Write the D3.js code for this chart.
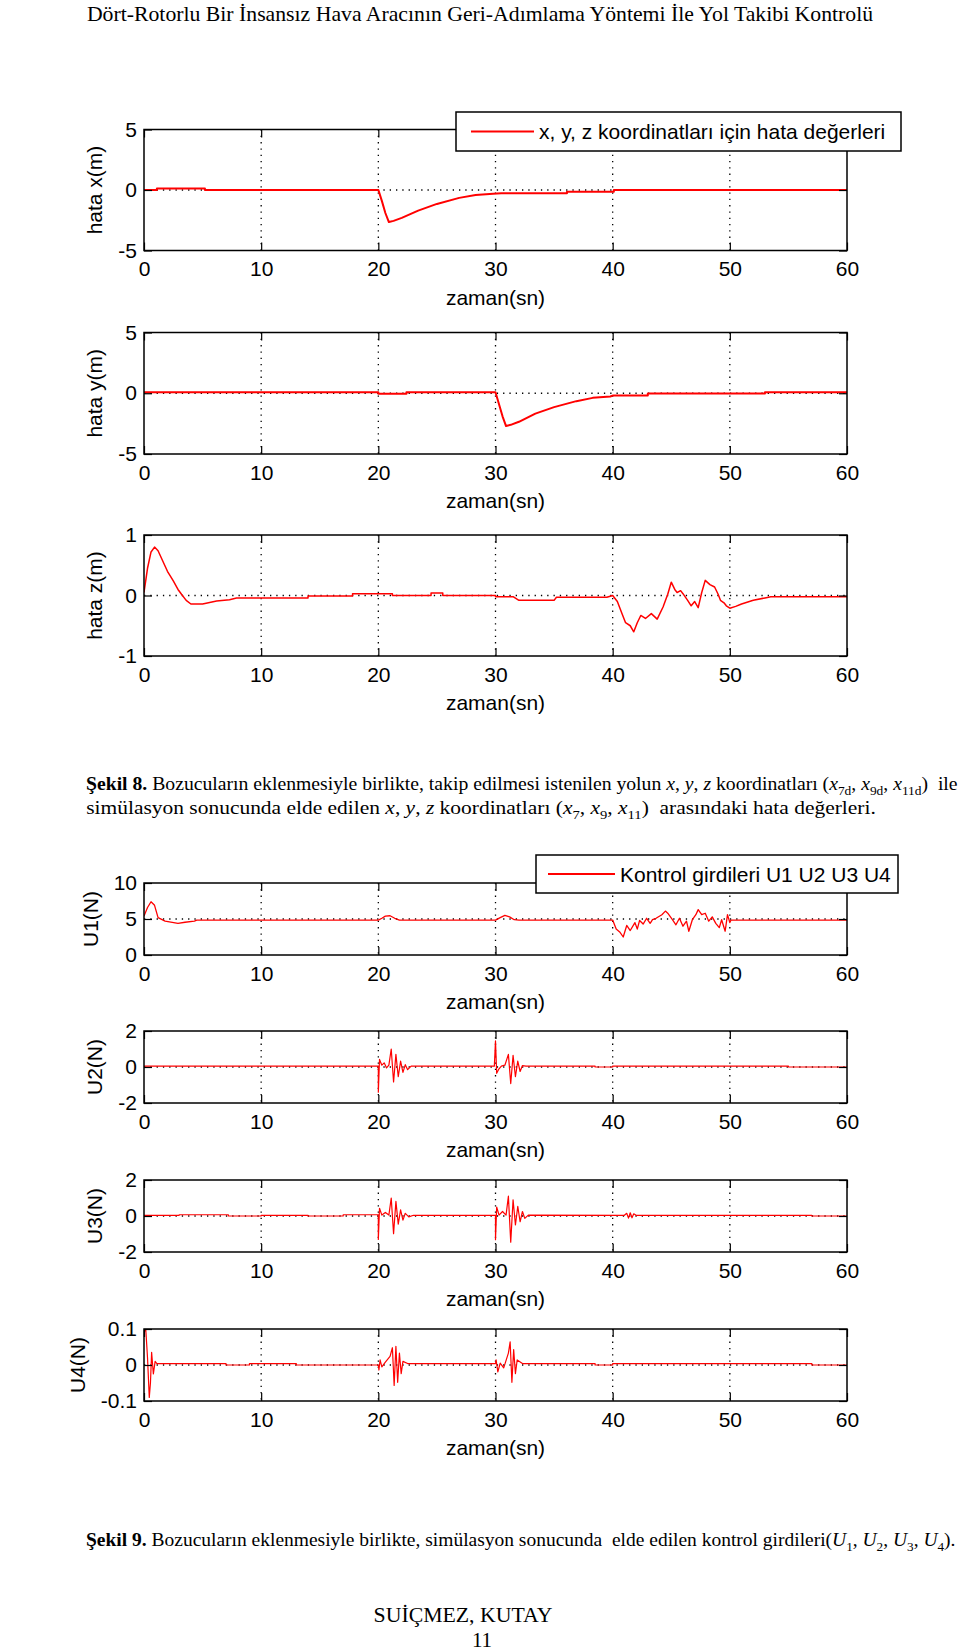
<!DOCTYPE html>
<html>
<head>
<meta charset="utf-8">
<script src="https://cdnjs.cloudflare.com/ajax/libs/d3/7.8.5/d3.min.js"></script>
<style>
	body { margin: 0; background: #fff; }
	svg text { white-space: pre; }
</style>
</head>
<body>
<svg id="page" width="960" height="1651"></svg>
<script>
'use strict';

// ---- data: [time (sn), value] ----
var xTicks = [0, 10, 20, 30, 40, 50, 60];
var errTicks = [-5, 0, 5];
var zTicks = [-1, 0, 1];
var u1Ticks = [0, 5, 10];
var u23Ticks = [-2, 0, 2];
var u4Ticks = [-0.1, 0, 0.1];

var errX = [[0, 0], [1.1, 0], [1.1, 0.12], [5.2, 0.12], [5.2, 0.01], [20, 0.01], [20.3, -0.9], [20.6, -1.9],
	[20.9, -2.65], [21.3, -2.55], [22, -2.3], [23.4, -1.7], [25, -1.15], [26.9, -0.65], [28.3, -0.42],
	[29.8, -0.3], [30.5, -0.27], [36.1, -0.27], [36.1, -0.14], [40.1, -0.14], [40.1, 0], [60, 0]];

var errY = [[0, 0.08], [20, 0.08], [20, -0.05], [22.4, -0.05], [22.4, 0.08], [30, 0.08], [30.3, -0.9],
	[30.6, -1.9], [30.9, -2.7], [31.3, -2.6], [32, -2.35], [33.4, -1.68], [35, -1.14], [36.9, -0.65],
	[38.3, -0.38], [39.8, -0.27], [40, -0.19], [43, -0.19], [43, -0.03], [53, -0.03], [53, 0.08], [60, 0.08]];

var errZ = [[0, 0.05], [0.3, 0.45], [0.6, 0.72], [0.9, 0.8], [1.2, 0.74], [1.6, 0.57], [2, 0.4], [2.5, 0.24],
	[2.9, 0.1], [3.2, 0.02], [3.6, -0.08], [4, -0.14], [5, -0.14], [5.5, -0.12], [6.2, -0.09], [7.3, -0.07],
	[7.9, -0.04], [14, -0.04], [14, -0.01], [17.8, -0.01], [17.8, 0.03], [21.2, 0.03], [21.2, 0], [24.5, 0],
	[24.5, 0.04], [25.5, 0.04], [25.5, 0], [30, 0], [30, -0.02], [31.5, -0.02], [32, -0.08], [35, -0.08],
	[35.2, -0.03], [39.5, -0.03], [40, 0], [40.4, -0.1], [40.8, -0.3], [41.1, -0.45], [41.5, -0.5],
	[41.8, -0.6], [42.1, -0.45], [42.4, -0.33], [42.8, -0.38], [43.3, -0.3], [43.8, -0.39], [44.3, -0.19],
	[44.7, 0.02], [45, 0.22], [45.3, 0.1], [45.5, 0.05], [45.8, 0.08], [46, 0.03], [46.4, -0.08],
	[46.7, -0.17], [47, -0.1], [47.3, -0.2], [47.6, 0.05], [47.9, 0.25], [48.3, 0.18], [48.7, 0.14],
	[49, 0.02], [49.2, -0.08], [49.5, -0.12], [49.7, -0.17], [50, -0.21], [50.5, -0.18], [51, -0.14],
	[52, -0.08], [53, -0.04], [53.5, -0.02], [60, -0.02]];

var u1 = [[0, 5.4], [0.3, 6.6], [0.6, 7.4], [0.9, 6.9], [1.2, 5.2], [1.8, 4.7], [2.9, 4.4], [3.5, 4.55],
	[4.3, 4.7], [4.5, 4.85], [20, 4.85], [20.3, 5.1], [20.6, 5.4], [21, 5.45], [21.4, 5.1], [21.8, 4.85],
	[30, 4.85], [30.4, 5.2], [30.8, 5.5], [31.2, 5.3], [31.6, 4.9], [32, 4.85], [40, 4.85], [40.3, 3.6],
	[40.6, 3.2], [40.9, 2.5], [41.2, 4.1], [41.5, 3.4], [41.9, 4.5], [42.1, 3.6], [42.3, 4.8], [42.6, 4.3],
	[42.9, 5.1], [43.2, 4.4], [43.4, 4.9], [43.7, 5.1], [44.2, 5.6], [44.5, 6.1], [44.7, 5.8], [45.1, 4.9],
	[45.4, 4.2], [45.7, 5.1], [46, 4.0], [46.3, 4.7], [46.5, 3.3], [46.8, 4.9], [47.1, 5.6], [47.3, 6.3],
	[47.6, 5.6], [47.9, 5.8], [48.2, 4.7], [48.5, 5.3], [48.8, 4.4], [49.1, 3.8], [49.3, 4.9], [49.6, 3.3],
	[49.8, 5.6], [50, 4.5], [50.1, 4.85], [60, 4.85]];

var u2 = [[0, 0.05], [20, 0.05], [20, -1.4], [20.1, 0.42], [20.3, 0.1], [20.5, 0.23], [20.7, -0.05],
	[20.9, 0.1], [21.1, 1.0], [21.3, -0.83], [21.5, 0.7], [21.7, -0.54], [21.9, 0.33], [22.1, -0.3],
	[22.3, 0.13], [22.5, -0.15], [22.8, 0.05], [29.9, 0.05], [30, 1.45], [30.1, -0.35], [30.3, -0.1],
	[30.5, 0.05], [30.8, 0.1], [31.1, 0.7], [31.3, -0.92], [31.5, 0.65], [31.7, -0.54], [31.9, 0.33],
	[32.1, -0.25], [32.3, 0.08], [32.6, 0.05], [38.5, 0.05], [38.5, 0], [40, 0], [40, 0.05], [55, 0.05],
	[55, 0], [60, 0]];

var u3 = [[0, 0.04], [3, 0.04], [3, 0.07], [7.2, 0.07], [7.2, 0], [10, 0], [10, 0.04], [14, 0.04], [14, 0],
	[17, 0], [17, 0.07], [20, 0.07], [20, -1.3], [20.1, 0.43], [20.3, 0.05], [20.6, 0.2], [20.9, 0.05],
	[21.1, 1.0], [21.3, -0.98], [21.5, 0.81], [21.7, -0.45], [21.9, 0.34], [22.1, -0.23], [22.3, 0.15],
	[22.6, -0.05], [23, 0.04], [30, 0.04], [30, -1.32], [30.1, 0.5], [30.3, 0.05], [30.6, 0.25], [30.9, 0.05],
	[31.1, 1.1], [31.3, -1.45], [31.5, 0.9], [31.7, -0.5], [31.9, 0.53], [32.1, -0.32], [32.3, 0.25],
	[32.5, -0.13], [32.8, 0.05], [41, 0.04], [41.2, 0.15], [41.35, -0.12], [41.5, 0.18], [41.65, -0.1],
	[41.8, 0.12], [42, 0.04], [57, 0.04], [57, 0], [60, 0]];

var u4 = [[0, 0.09], [0.15, 0.1], [0.3, 0.02], [0.45, -0.09], [0.55, -0.05], [0.65, 0.035], [0.8, -0.025],
	[0.95, 0.01], [1.1, 0.004], [7, 0.004], [7, 0], [9, 0], [9, 0.004], [13, 0.004], [13, 0], [20, 0],
	[20.05, -0.014], [20.15, 0.014], [20.3, -0.005], [20.6, 0.008], [21, 0.024], [21.2, 0.048],
	[21.35, -0.057], [21.5, 0.052], [21.65, -0.048], [21.8, 0.033], [21.95, -0.024], [22.1, 0.01],
	[22.5, 0.004], [30, 0.004], [30.05, 0.014], [30.2, -0.019], [30.4, 0.005], [30.7, -0.008], [31.1, 0.033],
	[31.25, 0.064], [31.4, -0.048], [31.55, 0.043], [31.7, -0.024], [31.85, 0.014], [32.3, 0.004],
	[38.5, 0.004], [38.5, 0], [40, 0], [40, 0.004], [57, 0.004], [57, 0], [60, 0]];

// ---- texts ----
var headerText = 'Dört-Rotorlu Bir İnsansız Hava Aracının Geri-Adımlama Yöntemi İle Yol Takibi Kontrolü';
var legend1Text = 'x, y, z koordinatları için hata değerleri';
var legend2Text = 'Kontrol girdileri U1 U2 U3 U4';
var xLabel = 'zaman(sn)';

// caption segments: [text, style]  b = bold, i = italic, sub = subscript
var caption8a = [['Şekil 8.', 'b'], [' Bozucuların eklenmesiyle birlikte, takip edilmesi istenilen yolun ', ''],
	['x', 'i'], [', ', ''], ['y', 'i'], [', ', ''], ['z', 'i'], [' koordinatları (', ''],
	['x', 'i'], ['7d', 'sub'], [', ', ''], ['x', 'i'], ['9d', 'sub'], [', ', ''], ['x', 'i'], ['11d', 'sub'],
	[')  ile', '']];
var caption8b = [['simülasyon sonucunda elde edilen ', ''], ['x', 'i'], [', ', ''], ['y', 'i'], [', ', ''],
	['z', 'i'], [' koordinatları (', ''], ['x', 'i'], ['7', 'sub'], [', ', ''], ['x', 'i'], ['9', 'sub'],
	[', ', ''], ['x', 'i'], ['11', 'sub'], [')  arasındaki hata değerleri.', '']];
var caption9 = [['Şekil 9.', 'b'], [' Bozucuların eklenmesiyle birlikte, simülasyon sonucunda  elde edilen kontrol girdileri(', ''],
	['U', 'i'], ['1', 'sub'], [', ', ''], ['U', 'i'], ['2', 'sub'], [', ', ''], ['U', 'i'], ['3', 'sub'],
	[', ', ''], ['U', 'i'], ['4', 'sub'], [').', '']];
var footerName = 'SUİÇMEZ, KUTAY';
var footerPage = '11';

// ---- drawing ----
var svg = d3.select('#page');
var SANS = '"Liberation Sans", Arial, sans-serif';
var SERIF = '"Liberation Serif", "Times New Roman", serif';
var RED = '#f00';
var AXIS_FONT = 21;
var plotLeft = 144, plotRight = 847;

var panels = [
	{ id: 'px', data: errX, domain: [-5, 5], ticks: errTicks, label: 'hata x(m)', top: 129.5, bottom: 250.5, lw: 2 },
	{ id: 'py', data: errY, domain: [-5, 5], ticks: errTicks, label: 'hata y(m)', top: 332.5, bottom: 454, lw: 2 },
	{ id: 'pz', data: errZ, domain: [-1, 1], ticks: zTicks, label: 'hata z(m)', top: 535, bottom: 656, lw: 1.5 },
	{ id: 'u1', data: u1, domain: [0, 10], ticks: u1Ticks, label: 'U1(N)', top: 883, bottom: 955, lw: 1.3 },
	{ id: 'u2', data: u2, domain: [-2, 2], ticks: u23Ticks, label: 'U2(N)', top: 1031, bottom: 1103, lw: 1.2 },
	{ id: 'u3', data: u3, domain: [-2, 2], ticks: u23Ticks, label: 'U3(N)', top: 1180, bottom: 1252, lw: 1.2 },
	{ id: 'u4', data: u4, domain: [-0.1, 0.1], ticks: u4Ticks, label: 'U4(N)', top: 1329, bottom: 1401, lw: 1.2 }
];

function styleAxis(sel) {
	sel.select('.domain').remove();
	sel.selectAll('.tick line').attr('stroke', '#000').attr('stroke-width', 1.2);
	sel.selectAll('.tick text').attr('fill', '#000');
	sel.attr('font-family', SANS).attr('font-size', AXIS_FONT);
}

function drawPanel(p) {
	var x = d3.scaleLinear().domain([0, 60]).range([plotLeft, plotRight]);
	var y = d3.scaleLinear().domain(p.domain).range([p.bottom, p.top]);
	var g = svg.append('g').attr('class', 'panel ' + p.id);

	// dotted grid, below the data like matlab does
	g.selectAll('line.gx').data(xTicks.slice(1, -1)).enter().append('line')
		.attr('class', 'gx')
		.attr('x1', x).attr('x2', x).attr('y1', p.top).attr('y2', p.bottom)
		.attr('stroke', '#000').attr('stroke-width', 1.3).attr('stroke-dasharray', '1.3,5');
	g.selectAll('line.gy').data(p.ticks.slice(1, -1)).enter().append('line')
		.attr('class', 'gy')
		.attr('x1', plotLeft).attr('x2', plotRight).attr('y1', y).attr('y2', y)
		.attr('stroke', '#000').attr('stroke-width', 1.3).attr('stroke-dasharray', '1.3,5');

	g.append('clipPath').attr('id', 'clip-' + p.id).append('rect')
		.attr('x', plotLeft).attr('y', p.top).attr('width', plotRight - plotLeft).attr('height', p.bottom - p.top);

	var line = d3.line().x(function (d) { return x(d[0]); }).y(function (d) { return y(d[1]); });
	g.append('path').datum(p.data)
		.attr('clip-path', 'url(#clip-' + p.id + ')')
		.attr('d', line)
		.attr('fill', 'none').attr('stroke', RED).attr('stroke-width', p.lw).attr('stroke-linejoin', 'round');

	g.append('rect')
		.attr('x', plotLeft).attr('y', p.top).attr('width', plotRight - plotLeft).attr('height', p.bottom - p.top)
		.attr('fill', 'none').attr('stroke', '#000').attr('stroke-width', 1.5);

	var fmt = function (d) { return String(d); };
	g.append('g').attr('transform', 'translate(0,' + p.bottom + ')')
		.call(d3.axisBottom(x).tickValues(xTicks).tickSizeInner(-8).tickSizeOuter(0).tickPadding(11).tickFormat(fmt))
		.call(styleAxis);
	g.append('g').attr('transform', 'translate(0,' + p.top + ')')
		.call(d3.axisTop(x).tickValues(xTicks).tickSizeInner(-8).tickSizeOuter(0).tickFormat(''))
		.call(styleAxis);
	var left = g.append('g').attr('transform', 'translate(' + plotLeft + ',0)')
		.call(d3.axisLeft(y).tickValues(p.ticks).tickSizeInner(-8).tickSizeOuter(0).tickPadding(7).tickFormat(fmt))
		.call(styleAxis);
	g.append('g').attr('transform', 'translate(' + plotRight + ',0)')
		.call(d3.axisRight(y).tickValues(p.ticks).tickSizeInner(-8).tickSizeOuter(0).tickFormat(''))
		.call(styleAxis);

	// axis titles
	var lb = left.node().getBBox();
	g.append('text')
		.attr('transform', 'translate(' + (plotLeft + lb.x - 16) + ',' + ((p.top + p.bottom) / 2) + ') rotate(-90)')
		.attr('text-anchor', 'middle').attr('font-family', SANS).attr('font-size', AXIS_FONT)
		.text(p.label);
	g.append('text')
		.attr('x', (plotLeft + plotRight) / 2).attr('y', p.bottom + 54)
		.attr('text-anchor', 'middle').attr('font-family', SANS).attr('font-size', AXIS_FONT)
		.text(xLabel);
}

panels.forEach(drawPanel);

function drawLegend(x0, y0, w, h, lineX1, lineX2, label) {
	var g = svg.append('g').attr('class', 'legend');
	g.append('rect').attr('x', x0).attr('y', y0).attr('width', w).attr('height', h)
		.attr('fill', '#fff').attr('stroke', '#000').attr('stroke-width', 1.5);
	g.append('line').attr('x1', lineX1).attr('x2', lineX2).attr('y1', y0 + h / 2).attr('y2', y0 + h / 2)
		.attr('stroke', RED).attr('stroke-width', 2);
	g.append('text').attr('x', lineX2 + 5).attr('y', y0 + h / 2 + 7.5)
		.attr('font-family', SANS).attr('font-size', 21).text(label);
}

drawLegend(456, 112, 445, 39, 471, 534, legend1Text);
drawLegend(536, 855, 362, 38, 548, 615, legend2Text);

/**
 * Rich text line (bold / italic / subscript parts) in the serif font,
 * drawn at the origin of its own group so it can be squeezed sideways.
 */
function richText(segs, size, x, y, anchor) {
	var g = svg.append('g').attr('transform', 'translate(' + x + ',' + y + ')');
	var t = g.append('text').attr('x', 0).attr('y', 0)
		.attr('font-family', SERIF).attr('font-size', size).attr('text-anchor', anchor);
	var shifted = false;
	segs.forEach(function (s) {
		var ts = t.append('tspan').text(s[0]);
		if (s[1] === 'b') { ts.attr('font-weight', 'bold'); }
		if (s[1] === 'i') { ts.attr('font-style', 'italic'); }
		if (s[1] === 'sub') {
			ts.attr('font-size', size * 0.68).attr('dy', shifted ? 0 : size * 0.25);
			shifted = true;
		} else if (shifted) {
			ts.attr('dy', -size * 0.25);
			shifted = false;
		}
	});
	return g;
}

// keep the glyph size of the scan and squeeze the line to the scanned width
function fitText(segs, size, x, y, anchor, width) {
	var g = richText(segs, size, x, y, anchor);
	var w = g.select('text').node().getComputedTextLength();
	g.attr('transform', 'translate(' + x + ',' + y + ') scale(' + (width / w) + ',1)');
	return g;
}

fitText([[headerText, '']], 20, 480, 21, 'middle', 787);
fitText(caption8a, 18, 86, 790, 'start', 872);
fitText(caption8b, 18, 481, 814, 'middle', 790);
fitText(caption9, 18, 86, 1546, 'start', 870);
fitText([[footerName, '']], 21, 463, 1622, 'middle', 179);
richText([[footerPage, '']], 21, 482, 1647, 'middle');
</script>
</body>
</html>
